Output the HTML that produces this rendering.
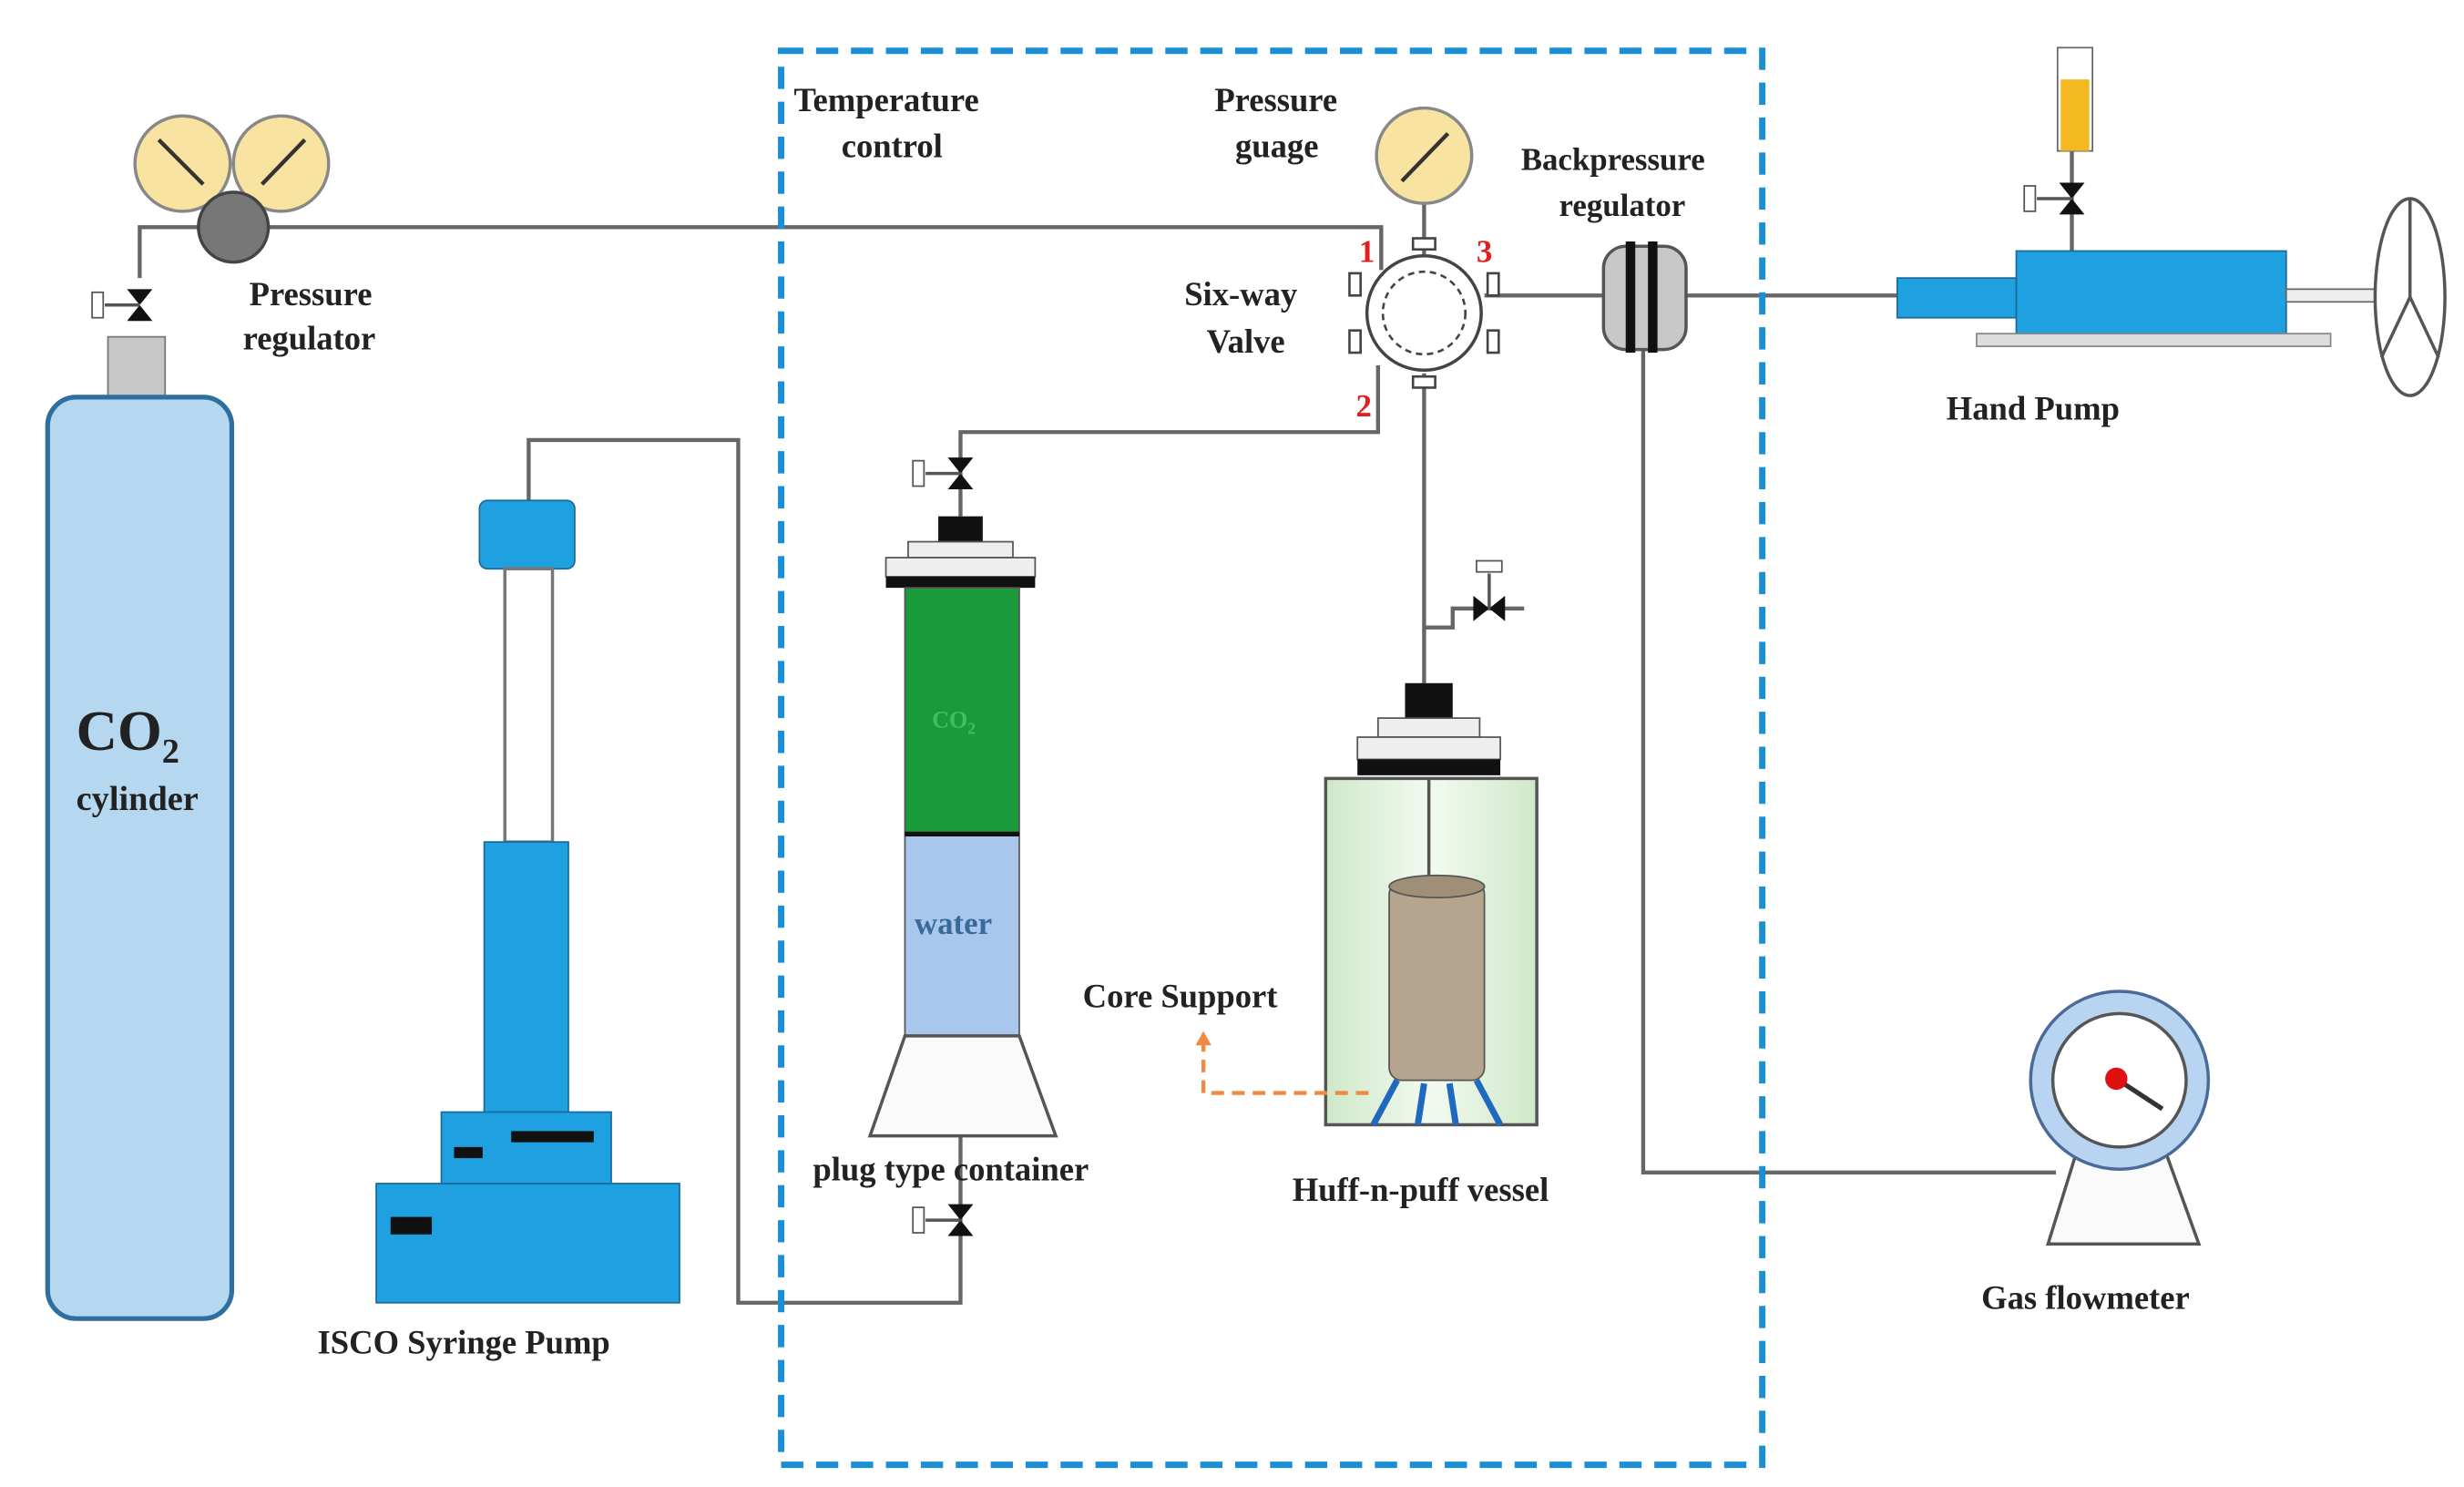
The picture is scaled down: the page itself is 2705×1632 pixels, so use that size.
<!DOCTYPE html>
<html><head><meta charset="utf-8"><style>
html,body{margin:0;padding:0;background:#fff;width:2705px;height:1632px;overflow:hidden}
svg{display:block}
text{font-family:"Liberation Serif",serif;font-weight:bold;fill:#222}
</style></head><body>
<svg width="2705" height="1632" viewBox="0 0 1552 936" preserveAspectRatio="none">
<defs>
<linearGradient id="gv" x1="0" x2="1"><stop offset="0" stop-color="#cfe8c8"/><stop offset="0.5" stop-color="#f2faf0"/><stop offset="1" stop-color="#cfe8c8"/></linearGradient>
<g id="valveH"><polygon points="-10,-8 -10,8 0,0" fill="#111"/><polygon points="10,-8 10,8 0,0" fill="#111"/><line x1="0" y1="0" x2="0" y2="-10" stroke="#555" stroke-width="2"/><rect x="-14" y="-15" width="28" height="5" fill="#fff" stroke="#555"/></g>
<g id="valveV"><polygon points="-8,-10 8,-10 0,0" fill="#111"/><polygon points="-8,10 8,10 0,0" fill="#111"/><line x1="0" y1="0" x2="-22" y2="0" stroke="#555" stroke-width="2"/><rect x="-30" y="-8" width="7" height="16" fill="#fff" stroke="#555"/></g>
</defs>
<!-- pipes -->
<g stroke="#666" stroke-width="2.5" fill="none">
<polyline points="88,175 88,143 870,143 870,170"/>
<polyline points="868,230 868,272 605,272 605,325"/>
<polyline points="605,715 605,820 465,820 465,277 333,277 333,315"/>
<line x1="897" y1="128" x2="897" y2="160"/>
<line x1="897" y1="235" x2="897" y2="430"/>
<line x1="935" y1="186" x2="1195" y2="186"/>
<polyline points="1035,220 1035,738 1295,738"/>
<polyline points="897,395 915,395 915,383 960,383"/>
<line x1="1305" y1="95" x2="1305" y2="158"/>
</g>
<!-- dashed box -->
<rect x="492" y="32" width="618" height="890" fill="none" stroke="#1a8fd8" stroke-width="4" stroke-dasharray="14,8"/>
<!-- CO2 cylinder -->
<rect x="68" y="212" width="36" height="40" fill="#c8c8c8" stroke="#777"/>
<rect x="30" y="250" width="116" height="580" rx="18" fill="#b5d8f0" stroke="#2f6f9f" stroke-width="3"/>
<use href="#valveV" x="88" y="192"/>
<text x="48" y="472" font-size="36">CO<tspan font-size="22" dy="8">2</tspan></text>
<text x="48" y="510" font-size="22">cylinder</text>
<!-- regulator -->
<circle cx="115" cy="103" r="30" fill="#f8e4a0" stroke="#888" stroke-width="2"/>
<circle cx="177" cy="103" r="30" fill="#f8e4a0" stroke="#888" stroke-width="2"/>
<line x1="100" y1="88" x2="128" y2="116" stroke="#333" stroke-width="2.5"/>
<line x1="165" y1="116" x2="192" y2="88" stroke="#333" stroke-width="2.5"/>
<circle cx="147" cy="143" r="22" fill="#777" stroke="#444" stroke-width="2"/>
<text x="157" y="192" font-size="21">Pressure</text>
<text x="153" y="220" font-size="21">regulator</text>
<!-- ISCO pump -->
<rect x="302" y="315" width="60" height="43" rx="5" fill="#1fa0e0" stroke="#1b6a9a"/>
<rect x="318" y="358" width="30" height="172" fill="#fff" stroke="#777" stroke-width="2"/>
<rect x="305" y="530" width="53" height="170" fill="#1fa0e0" stroke="#1b6a9a"/>
<rect x="278" y="700" width="107" height="45" fill="#1fa0e0" stroke="#1b6a9a"/>
<rect x="237" y="745" width="191" height="75" fill="#1fa0e0" stroke="#1b6a9a"/>
<rect x="322" y="712" width="52" height="7" fill="#111"/><rect x="286" y="722" width="18" height="7" fill="#111"/>
<rect x="246" y="766" width="26" height="11" fill="#111"/>
<text x="200" y="852" font-size="21">ISCO Syringe Pump</text>
<!-- labels -->
<text x="500" y="70" font-size="21">Temperature</text>
<text x="530" y="99" font-size="21">control</text>
<text x="765" y="70" font-size="21">Pressure</text>
<text x="778" y="99" font-size="21">guage</text>
<text x="746" y="192" font-size="21">Six-way</text>
<text x="760" y="222" font-size="21">Valve</text>
<text x="958" y="107" font-size="20">Backpressure</text>
<text x="982" y="136" font-size="20">regulator</text>
<!-- pressure gauge -->
<circle cx="897" cy="98" r="30" fill="#f8e4a0" stroke="#888" stroke-width="2"/>
<line x1="883" y1="114" x2="912" y2="84" stroke="#333" stroke-width="2.5"/>
<!-- six-way valve -->
<circle cx="897" cy="197" r="36" fill="#fff" stroke="#444" stroke-width="2"/>
<circle cx="897" cy="197" r="26" fill="none" stroke="#444" stroke-width="1.5" stroke-dasharray="4,3"/>
<g fill="#fff" stroke="#444" stroke-width="1.5">
<rect x="890" y="150" width="14" height="7"/><rect x="890" y="237" width="14" height="7"/>
<rect x="850" y="172" width="7" height="14"/><rect x="937" y="172" width="7" height="14"/>
<rect x="850" y="208" width="7" height="14"/><rect x="937" y="208" width="7" height="14"/>
</g>
<text x="856" y="165" font-size="20" style="fill:#e02020">1</text>
<text x="930" y="165" font-size="20" style="fill:#e02020">3</text>
<text x="854" y="262" font-size="20" style="fill:#e02020">2</text>
<!-- backpressure regulator -->
<rect x="1010" y="155" width="52" height="65" rx="14" fill="#c8c8c8" stroke="#555" stroke-width="2"/>
<rect x="1024" y="152" width="6" height="70" fill="#111"/><rect x="1038" y="152" width="6" height="70" fill="#111"/>
<!-- hand pump -->
<rect x="1296" y="30" width="22" height="65" fill="#fff" stroke="#666"/>
<rect x="1298" y="50" width="18" height="45" fill="#f4b820"/>
<use href="#valveV" x="1305" y="125"/>
<rect x="1195" y="175" width="75" height="25" fill="#1fa0e0" stroke="#1b6a9a"/>
<rect x="1270" y="158" width="170" height="54" fill="#1fa0e0" stroke="#1b6a9a"/>
<rect x="1245" y="210" width="223" height="8" fill="#ddd" stroke="#888"/>
<rect x="1440" y="182" width="70" height="8" fill="#eee" stroke="#666"/>
<ellipse cx="1518" cy="187" rx="22" ry="62" fill="#fff" stroke="#555" stroke-width="2"/>
<g stroke="#555" stroke-width="2"><line x1="1518" y1="187" x2="1518" y2="125"/><line x1="1518" y1="187" x2="1500" y2="225"/><line x1="1518" y1="187" x2="1536" y2="225"/></g>
<text x="1226" y="264" font-size="21">Hand Pump</text>
<!-- plug container -->
<use href="#valveV" x="605" y="298"/>
<rect x="591" y="325" width="28" height="16" fill="#111"/>
<rect x="572" y="341" width="66" height="10" fill="#eee" stroke="#555"/>
<rect x="558" y="351" width="94" height="12" fill="#eee" stroke="#555"/>
<rect x="558" y="363" width="94" height="7" fill="#111"/>
<rect x="570" y="370" width="72" height="155" fill="#1a9a3a" stroke="#555"/>
<rect x="570" y="525" width="72" height="127" fill="#a9c6ec" stroke="#555"/>
<line x1="570" y1="525" x2="642" y2="525" stroke="#111" stroke-width="3"/>
<polygon points="570,652 642,652 665,715 548,715" fill="#fafafa" stroke="#555" stroke-width="2"/>
<text x="587" y="458" font-size="15" style="fill:#3fc060">CO<tspan font-size="10" dy="4">2</tspan></text>
<text x="576" y="588" font-size="20" style="fill:#3a6a9a">water</text>
<use href="#valveV" x="605" y="768"/>
<text x="512" y="743" font-size="21">plug type container</text>
<!-- huff vessel -->
<rect x="885" y="430" width="30" height="22" fill="#111"/>
<rect x="868" y="452" width="64" height="12" fill="#eee" stroke="#555"/>
<rect x="855" y="464" width="90" height="14" fill="#eee" stroke="#555"/>
<rect x="855" y="478" width="90" height="10" fill="#111"/>
<rect x="835" y="490" width="133" height="218" fill="url(#gv)" stroke="#555" stroke-width="2"/>
<line x1="900" y1="490" x2="900" y2="560" stroke="#555" stroke-width="2"/>
<rect x="875" y="555" width="60" height="125" rx="8" fill="#b5a48e" stroke="#555"/>
<ellipse cx="905" cy="558" rx="30" ry="7" fill="#a08f78" stroke="#555"/>
<g stroke="#1f6ac0" stroke-width="4"><line x1="880" y1="680" x2="865" y2="708"/><line x1="930" y1="680" x2="945" y2="708"/><line x1="897" y1="682" x2="893" y2="708"/><line x1="913" y1="682" x2="917" y2="708"/></g>
<g transform="translate(938,383) rotate(90)"><use href="#valveV"/></g>
<text x="814" y="756" font-size="21">Huff-n-puff vessel</text>
<text x="682" y="634" font-size="21">Core Support</text>
<polyline points="862,688 758,688 758,656" fill="none" stroke="#f08a40" stroke-width="2.5" stroke-dasharray="8,5"/>
<polygon points="753,658 763,658 758,649" fill="#f08a40"/>
<!-- flowmeter -->
<polygon points="1308,725 1364,725 1385,783 1290,783" fill="#fafafa" stroke="#555" stroke-width="2"/>
<circle cx="1335" cy="680" r="56" fill="#b8d4f0" stroke="#4a6a9a" stroke-width="2"/>
<circle cx="1335" cy="680" r="42" fill="#fff" stroke="#555" stroke-width="2"/>
<line x1="1333" y1="679" x2="1362" y2="698" stroke="#333" stroke-width="3"/>
<circle cx="1333" cy="679" r="7" fill="#e01010"/>
<text x="1248" y="824" font-size="21">Gas flowmeter</text>
</svg>
</body></html>
